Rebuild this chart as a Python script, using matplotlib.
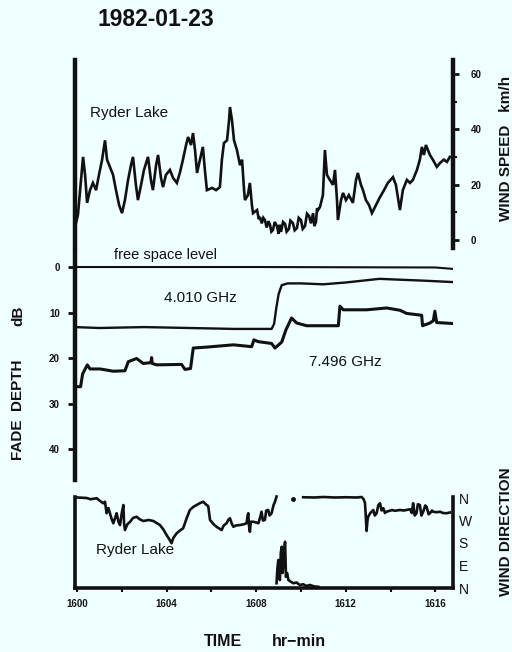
import matplotlib
matplotlib.use("Agg")
import matplotlib.pyplot as plt
from matplotlib.ticker import FixedLocator, MultipleLocator

plt.rcParams['font.family'] = ['Liberation Sans', 'DejaVu Sans']

BG = "#effefe"
INK = "#111111"

# ---------------- data (time in minutes after 16:00) ----------------
# Wind speed, Ryder Lake (km/h)
ws_t = [-0.09, 0.04, 0.27, 0.36, 0.45, 0.58, 0.71, 0.85, 0.98, 1.12, 1.25, 1.34, 1.47, 1.61,
        1.74, 1.88, 2.01, 2.14, 2.28, 2.41, 2.50, 2.63, 2.72, 2.86, 2.99, 3.17, 3.30, 3.39,
        3.53, 3.62, 3.75, 3.84, 3.97, 4.15, 4.29, 4.46, 4.60, 4.73, 4.87, 4.96, 5.09, 5.18,
        5.27, 5.36, 5.49, 5.62, 5.71, 5.80, 6.03, 6.21, 6.38, 6.47, 6.56, 6.70, 6.79, 6.83,
        6.92, 7.01, 7.14, 7.28, 7.37, 7.46, 7.50, 7.63, 7.72, 7.81, 7.86, 8.04, 8.12, 8.17,
        8.25, 8.32, 8.39, 8.47, 8.55, 8.62, 8.68, 8.75, 8.83, 8.93, 9.00, 9.05, 9.11, 9.20,
        9.29, 9.36, 9.46, 9.53, 9.64, 9.72, 9.82, 9.90, 10.00, 10.08, 10.18, 10.27, 10.36,
        10.45, 10.54, 10.60, 10.67, 10.72, 10.76, 10.85, 10.98, 11.07, 11.16, 11.29, 11.43,
        11.52, 11.61, 11.65, 11.79, 11.88, 12.01, 12.14, 12.32, 12.46, 12.54, 12.68, 12.77,
        12.90, 13.04, 13.17, 13.35, 13.53, 13.71, 13.88, 14.11, 14.24, 14.42, 14.55, 14.73,
        14.87, 15.00, 15.18, 15.31, 15.40, 15.49, 15.58, 15.67, 15.76, 15.89, 16.07, 16.21,
        16.38, 16.52, 16.65]
ws_v = [4.7, 9.0, 30.0, 23.5, 13.4, 18.0, 20.6, 18.0, 23.5, 29.0, 36.0, 29.0, 26.4, 23.5,
        18.0, 12.6, 9.7, 14.4, 21.7, 27.0, 30.0, 19.9, 14.4, 19.9, 25.3, 30.0, 21.7, 18.0,
        27.0, 30.7, 22.4, 19.1, 23.5, 25.3, 22.4, 20.6, 24.5, 29.0, 34.3, 37.2, 34.3, 38.6,
        32.5, 24.2, 29.0, 33.6, 25.3, 18.0, 18.8, 18.0, 19.1, 29.0, 35.0, 36.0, 43.3, 48.0,
        43.3, 36.0, 32.5, 27.0, 29.0, 18.0, 14.4, 16.2, 20.6, 12.6, 9.7, 10.8, 7.5, 8.3,
        6.0, 8.0, 7.2, 4.5, 6.8, 5.4, 3.0, 3.6, 6.5, 5.0, 2.2, 5.5, 2.9, 6.5,
        5.8, 3.0, 4.0, 7.0, 6.1, 3.5, 4.3, 8.0, 7.2, 4.0, 5.0, 9.5, 8.7,
        6.0, 9.7, 5.0, 6.5, 11.5, 10.8, 11.9, 16.2, 32.5, 23.5, 21.7, 19.9,
        25.3, 14.4, 7.2, 14.4, 17.0, 14.4, 16.2, 13.4, 21.7, 24.2, 19.9, 18.0,
        14.4, 12.6, 9.7, 12.6, 15.5, 18.0, 20.6, 22.7, 19.9, 10.8, 18.0, 21.7,
        20.6, 21.7, 25.3, 29.0, 33.6, 30.7, 34.3, 32.5, 30.7, 29.0, 26.4, 27.8,
        29.0, 28.2, 30.0]

# Fade depth (dB)
free_t = [-0.09, 8.0, 16.0, 16.75]
free_db = [0.0, 0.0, 0.1, 0.4]

f4_t = [-0.09, 1.0, 3.0, 5.0, 7.0, 8.69, 8.80, 8.90, 9.00, 9.14, 9.40, 10.0, 11.0, 12.0,
        13.5, 14.5, 15.5, 16.75]
f4_db = [13.2, 13.4, 13.2, 13.4, 13.6, 13.6, 12.5, 9.0, 6.0, 4.0, 3.6, 3.6, 3.8, 3.4,
         2.6, 2.8, 3.0, 3.3]

f7_t = [0.02, 0.16, 0.25, 0.46, 0.58, 1.03, 1.62, 2.14, 2.29, 2.66, 2.96, 3.30, 3.33, 3.36,
        3.56, 4.67, 4.82, 5.07, 5.19, 5.79, 6.98, 7.80, 7.90, 8.09, 8.69, 8.84, 9.14, 9.33,
        9.58, 9.81, 10.25, 11.67, 11.74, 11.89, 12.93, 13.83, 14.42, 14.72, 15.39, 15.43,
        15.76, 15.91, 15.98, 16.06, 16.73]
f7_db = [26.3, 26.3, 23.5, 21.5, 22.4, 22.4, 22.9, 22.8, 20.8, 20.1, 21.2, 21.0, 19.9, 21.2,
         21.5, 21.4, 22.5, 22.3, 17.8, 17.6, 17.1, 17.5, 16.0, 16.4, 16.8, 17.8, 16.5, 13.8,
         11.2, 12.3, 12.9, 12.9, 8.6, 9.4, 9.4, 9.0, 9.5, 10.2, 10.6, 12.9,
         12.3, 11.8, 9.7, 12.2, 12.4]

# Wind direction (degrees, N=0/360)
wdA_t = [0.02, 0.43, 0.60, 0.88, 1.00, 1.17, 1.25, 1.32, 1.40, 1.47, 1.55, 1.62, 1.70, 1.77,
         1.85, 1.92, 2.00, 2.07, 2.10, 2.14, 2.25, 2.37, 2.50, 2.66, 2.80, 2.96, 3.20, 3.41,
         3.70, 3.85, 4.00, 4.12, 4.22, 4.30, 4.45, 4.60, 4.74, 4.90, 5.04, 5.20, 5.34, 5.50,
         5.64, 5.75, 5.86, 5.94, 6.10, 6.23, 6.35, 6.46, 6.55, 6.68, 6.75, 6.83, 6.90, 6.98,
         7.10, 7.28, 7.45, 7.57, 7.62, 7.65, 7.68, 7.72, 7.76, 7.87, 8.00, 8.10, 8.20, 8.24,
         8.30, 8.39, 8.45, 8.54, 8.60, 8.69, 8.77, 8.84, 8.91]
wdA_deg = [362, 360, 355, 359, 350, 339, 345, 299, 320, 299, 275, 259, 280, 299,
           265, 252, 300, 332, 260, 232, 255, 265, 280, 285, 275, 268, 272, 268,
           252, 235, 212, 195, 179, 200, 219, 230, 239, 280, 312, 325, 332, 340,
           345, 335, 327, 272, 255, 245, 238, 232, 250, 259, 272, 279, 260, 245,
           250, 252, 255, 259, 290, 299, 250, 225, 265, 265, 262, 259, 290, 305,
           270, 272, 310, 312, 290, 299, 330, 345, 366]

wdB_t = [8.91, 8.95, 8.99, 9.03, 9.06, 9.10, 9.14, 9.18, 9.21, 9.25, 9.29, 9.31, 9.33, 9.38,
         9.44, 9.55, 9.66, 9.80, 9.95, 10.10, 10.25, 10.40, 10.60, 10.77]
wdB_deg = [19, 80, 112, 40, 32, 140, 165, 60, 85, 150, 185, 120, 45, 60,
           32, 25, 19, 22, 12, 15, 8, 12, 6, 5]

wd_dot_t = [9.64]
wd_dot_deg = [355]

wdC_t = [10.10, 10.60, 11.00, 11.50, 12.00, 12.50, 12.71, 12.80, 12.86, 12.90, 12.93, 12.97,
         13.00, 13.10, 13.23, 13.30, 13.38, 13.45, 13.53, 13.60, 13.68, 13.75, 13.82, 14.00,
         14.05, 14.20, 14.42, 14.60, 14.87, 14.95, 15.01, 15.08, 15.16, 15.22, 15.31, 15.38,
         15.46, 15.55, 15.61, 15.70, 15.76, 15.85, 15.91, 16.05, 16.21, 16.35, 16.50, 16.65]
wdC_deg = [363, 362, 364, 362, 363, 362, 364, 355, 340, 280, 228, 270,
           285, 300, 312, 290, 299, 330, 339, 310, 319, 300, 305, 310,
           312, 309, 312, 310, 315, 300, 339, 290, 299, 335, 332, 290,
           305, 330, 325, 295, 299, 310, 305, 303, 305, 300, 299, 302]

speed_ticks = [0, 20, 40, 60]
fade_ticks = [0, 10, 20, 30, 40]
dir_ticks = [0, 90, 180, 270, 360]
dir_labels = ['N', 'E', 'S', 'W', 'N']
time_ticks = [0, 4, 8, 12, 16]
time_labels = ['1600', '1604', '1608', '1612', '1616']

# ---------------- figure ----------------
W, H = 512, 652
fig = plt.figure(figsize=(W / 100, H / 100), dpi=100, facecolor=BG)


def frac(x0, y0, x1, y1):
    return [x0 / W, 1 - y1 / H, (x1 - x0) / W, (y1 - y0) / H]


XL = (-0.09, 16.79)
LW = 1.9

# --- wind speed panel
ax1 = fig.add_axes(frac(75, 60, 453, 248))
ax1.set_facecolor('none')
ax1.plot(ws_t, ws_v, color=INK, lw=LW, solid_joinstyle='miter')
ax1.set_xlim(*XL)
ax1.set_ylim(-2.9, 65)
for s in ['top', 'bottom']:
    ax1.spines[s].set_visible(False)
for s in ['left', 'right']:
    ax1.spines[s].set_linewidth(3.2)
    ax1.spines[s].set_color(INK)
ax1.set_xticks([])
ax1.yaxis.tick_right()
ax1.yaxis.set_major_locator(FixedLocator(speed_ticks))
ax1.yaxis.set_minor_locator(MultipleLocator(10))
ax1.tick_params(axis='y', which='major', direction='out', length=4, width=2,
                labelsize=7, pad=9, colors=INK)
ax1.tick_params(axis='y', which='minor', direction='out', length=3, width=1.5, colors=INK)
for lab in ax1.get_yticklabels():
    lab.set_fontweight('bold')

# --- fade depth panel
ax2 = fig.add_axes(frac(75, 252, 453, 480))
ax2.set_facecolor('none')
ax2.plot(free_t, free_db, color=INK, lw=1.5)
ax2.plot(f4_t, f4_db, color=INK, lw=1.7)
ax2.plot(f7_t, f7_db, color=INK, lw=2.2)
ax2.set_xlim(*XL)
ax2.set_ylim(46.8, -3.3)
for s in ['top', 'bottom', 'right']:
    ax2.spines[s].set_visible(False)
ax2.spines['left'].set_linewidth(3.2)
ax2.spines['left'].set_color(INK)
ax2.set_xticks([])
ax2.set_yticks(fade_ticks)
ax2.tick_params(axis='y', direction='out', length=5, width=2, labelsize=7, pad=6, colors=INK)
for lab in ax2.get_yticklabels():
    lab.set_fontweight('bold')

# --- wind direction panel
ax3 = fig.add_axes(frac(75, 497, 453, 588))
ax3.set_facecolor('none')
ax3.plot(wdA_t, wdA_deg, color=INK, lw=LW, clip_on=False)
ax3.plot(wdB_t, wdB_deg, color=INK, lw=LW, clip_on=False)
ax3.plot(wdC_t, wdC_deg, color=INK, lw=LW, clip_on=False)
ax3.plot(wd_dot_t, wd_dot_deg, 'o', color=INK, ms=2.5, clip_on=False)
ax3.set_xlim(*XL)
ax3.set_ylim(0, 364)
ax3.spines['top'].set_visible(False)
for s in ['left', 'right', 'bottom']:
    ax3.spines[s].set_linewidth(2.6)
    ax3.spines[s].set_color(INK)
ax3.set_xticks(time_ticks)
ax3.set_xticklabels(time_labels, fontsize=7, fontweight='bold')
ax3.xaxis.set_minor_locator(MultipleLocator(2))
ax3.tick_params(axis='x', which='major', direction='out', length=3, width=1.5, pad=5, colors=INK)
ax3.tick_params(axis='x', which='minor', direction='out', length=3, width=1.5, colors=INK)
ax3.yaxis.tick_right()
ax3.set_yticks(dir_ticks)
ax3.set_yticklabels(dir_labels, fontsize=10)
ax3.tick_params(axis='y', direction='out', length=0, pad=4, colors=INK)


def ftxt(x, y, s, **kw):
    fig.text(x / W, 1 - y / H, s, ha=kw.pop('ha', 'center'), va=kw.pop('va', 'center'),
             color=INK, **kw)


ftxt(156, 20, '1982-01-23', fontsize=16.5, fontweight='bold')
ftxt(129, 113, 'Ryder Lake', fontsize=11)
ftxt(165, 255, 'free space level', fontsize=10.5)
ftxt(200, 298, '4.010 GHz', fontsize=11)
ftxt(345, 362, '7.496 GHz', fontsize=11)
ftxt(135, 550, 'Ryder Lake', fontsize=11)
ftxt(18, 410, 'FADE  DEPTH', fontsize=11, fontweight='bold', rotation=90)
ftxt(18, 316, 'dB', fontsize=11, fontweight='bold', rotation=90)
ftxt(506, 148, 'WIND SPEED   km/h', fontsize=11, fontweight='bold', rotation=90)
ftxt(506, 532, 'WIND DIRECTION', fontsize=11, fontweight='bold', rotation=90)
ftxt(223, 641, 'TIME', fontsize=11.5, fontweight='bold')
ftxt(299, 641, 'hr\u2212min', fontsize=11.5, fontweight='bold')

fig.savefig('out.png', dpi=100, facecolor=BG)
